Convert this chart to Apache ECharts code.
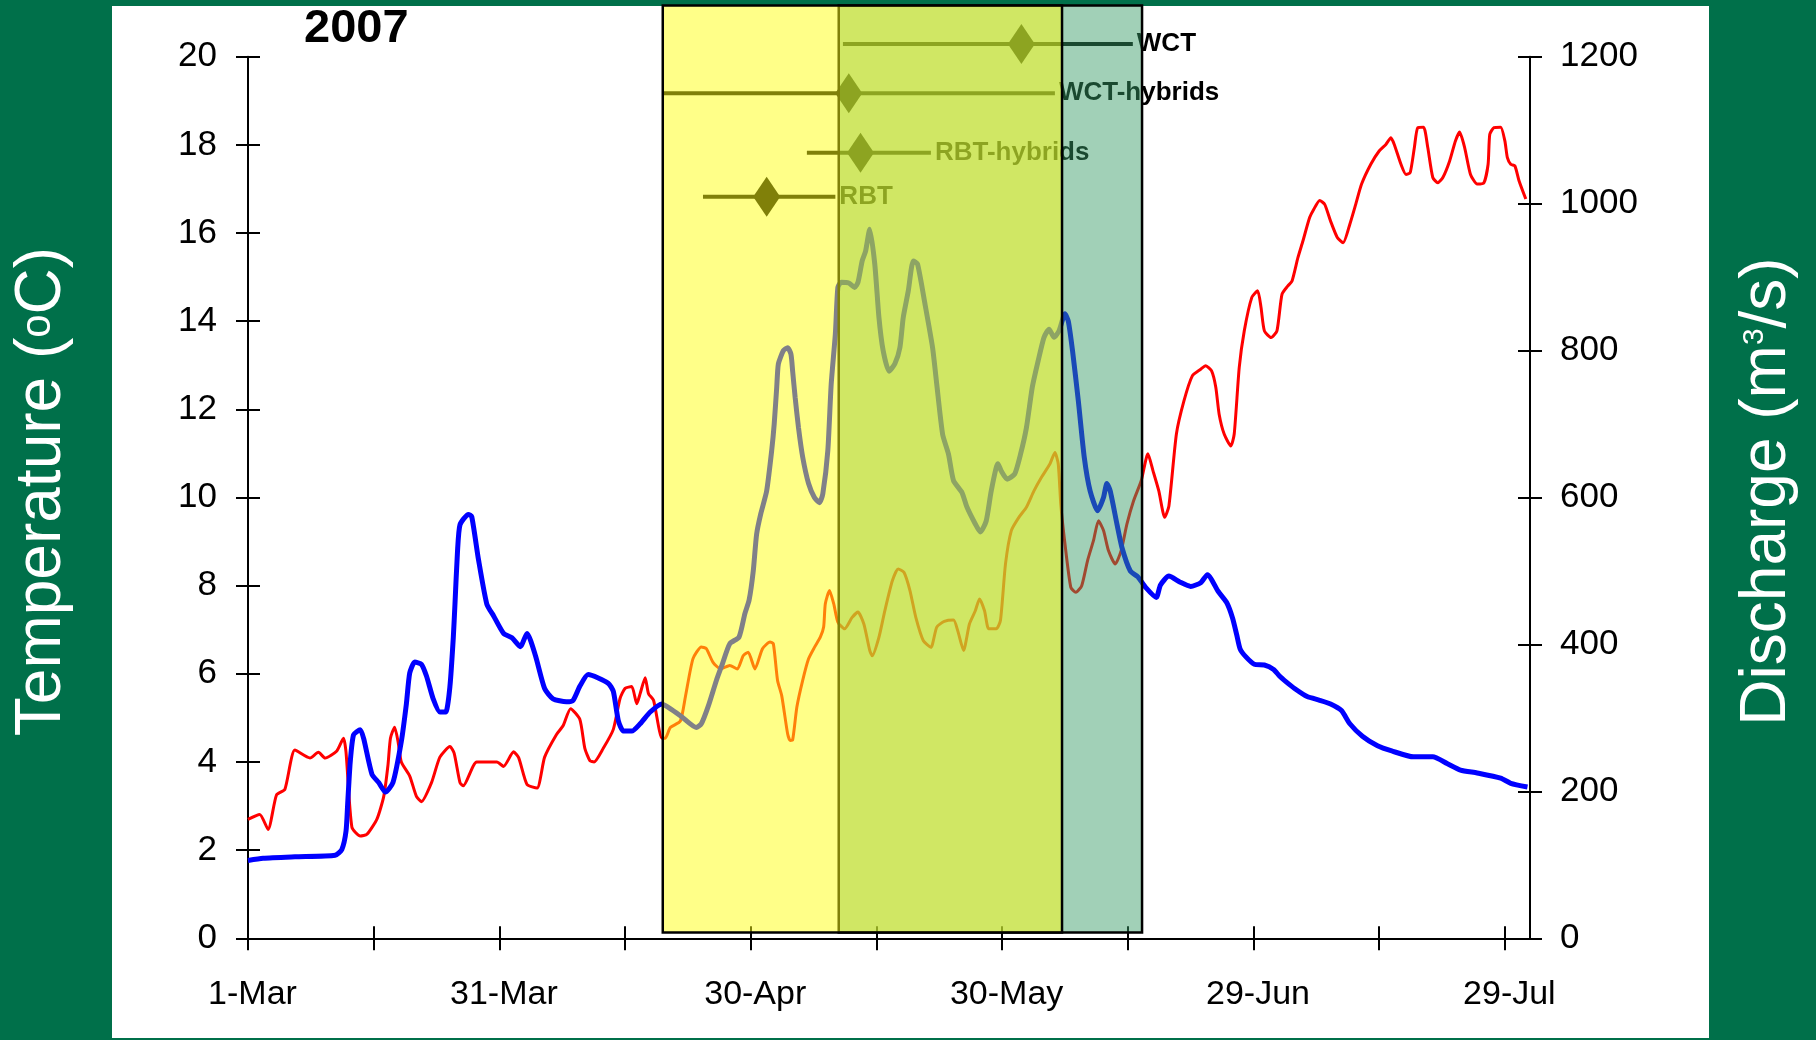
<!DOCTYPE html>
<html>
<head>
<meta charset="utf-8">
<script src="https://cdn.jsdelivr.net/npm/echarts@6/dist/echarts.min.js"></script>
<style>
  html, body { margin: 0; padding: 0; background: #00704a; }
  #panel { position: absolute; left: 112px; top: 6px; width: 1597px; height: 1032px; background: #fff; }
  #chart { position: absolute; left: 0; top: 0; width: 1816px; height: 1040px; }
</style>
</head>
<body>
<div id="panel"></div>
<div id="chart"></div>
<script>
const FONT = '"Liberation Sans", Arial, sans-serif';

// x axis is days since 1 March 2007
const xTickDays = [0, 15, 30, 45, 60, 75, 90, 105, 120, 135, 150];
const xLabelDays = [0, 30, 60, 90, 120, 150];
const xLabels = ["1-Mar", "31-Mar", "30-Apr", "30-May", "29-Jun", "29-Jul"];

// water temperature, [day, degC]
const temperature = [
  [0, 2.7], [1.4, 2.81], [2.4, 2.47], [3.4, 3.25], [4.4, 3.38], [5.6, 4.27], [7.4, 4.09], [8.4, 4.22],
  [9.2, 4.09], [10.6, 4.25], [11.4, 4.54], [11.7, 4.22], [12.4, 2.52], [13.4, 2.32], [14.2, 2.36],
  [15.4, 2.71], [16.2, 3.22], [16.7, 3.92], [17.0, 4.54], [17.5, 4.79], [17.9, 4.47], [18.3, 4.0],
  [19.3, 3.68], [20.1, 3.22], [20.7, 3.1], [21.9, 3.53], [22.9, 4.11], [24.1, 4.35], [24.6, 4.2],
  [25.3, 3.53], [25.7, 3.46], [27.3, 4.0], [29.7, 4.0], [30.5, 3.9], [31.7, 4.23], [32.3, 4.1],
  [33.3, 3.49], [34.5, 3.41], [35.4, 4.11], [36.8, 4.62], [37.6, 4.82], [38.5, 5.21], [39.6, 4.97],
  [40.2, 4.31], [40.8, 4.03], [41.3, 4.0], [42.4, 4.31], [43.6, 4.74], [44.4, 5.44], [45.0, 5.67],
  [45.8, 5.71], [46.4, 5.32], [46.8, 5.55], [47.4, 5.91], [47.8, 5.55], [48.4, 5.4], [49.4, 4.54],
  [49.8, 4.54], [50.4, 4.78], [51.6, 4.93], [52.2, 5.48], [53.1, 6.34], [54.1, 6.61], [54.7, 6.57],
  [55.5, 6.26], [56.4, 6.11], [57.5, 6.19], [58.4, 6.11], [59.1, 6.41], [59.7, 6.49], [60.5, 6.11],
  [61.4, 6.57], [62.3, 6.72], [62.7, 6.68], [63.2, 5.85], [63.7, 5.5], [64.4, 4.64], [64.7, 4.49],
  [65.0, 4.5], [65.5, 5.24], [66.2, 5.85], [66.9, 6.34], [67.6, 6.6], [68.3, 6.83], [68.7, 7.06],
  [68.9, 7.59], [69.4, 7.89], [69.9, 7.59], [70.4, 7.17], [71.2, 7.02], [72.1, 7.28], [72.8, 7.4],
  [73.5, 7.13], [74.2, 6.53], [74.5, 6.41], [75.3, 6.83], [76.0, 7.43], [76.9, 8.11], [77.6, 8.38],
  [78.3, 8.3], [79.0, 7.89], [79.7, 7.28], [80.6, 6.75], [81.5, 6.6], [82.2, 7.06], [83.1, 7.19],
  [84.2, 7.22], [84.7, 6.98], [85.4, 6.53], [86.1, 7.13], [86.8, 7.43], [87.3, 7.7], [87.9, 7.43],
  [88.4, 7.02], [89.3, 7.02], [89.8, 7.21], [90.4, 8.49], [91.1, 9.25], [92.0, 9.55], [92.9, 9.78],
  [93.8, 10.15], [94.7, 10.46], [95.7, 10.76], [96.3, 11.02], [96.7, 10.76], [97.0, 9.85], [97.5, 8.95],
  [98.2, 7.96], [98.8, 7.85], [99.5, 8.0], [100.2, 8.57], [100.9, 9.02], [101.5, 9.47], [102.1, 9.25],
  [102.7, 8.79], [103.5, 8.49], [104.2, 8.79], [104.9, 9.4], [105.7, 9.93], [106.6, 10.38], [107.4, 10.99],
  [108.0, 10.61], [108.7, 10.15], [109.4, 9.55], [109.9, 9.8], [110.8, 11.44], [111.7, 12.19],
  [112.7, 12.76], [113.7, 12.91], [114.3, 12.99], [115.0, 12.87], [115.5, 12.5], [115.9, 11.89],
  [116.5, 11.44], [117.3, 11.17], [117.7, 11.44], [118.3, 12.95], [118.9, 13.78], [119.8, 14.54],
  [120.5, 14.69], [120.9, 14.31], [121.3, 13.78], [122.1, 13.63], [122.8, 13.78], [123.4, 14.61],
  [124.1, 14.8], [124.6, 14.91], [125.3, 15.44], [125.9, 15.82], [126.7, 16.35], [127.2, 16.54],
  [127.9, 16.74], [128.5, 16.65], [129.2, 16.27], [130.0, 15.9], [130.7, 15.78], [131.5, 16.2],
  [132.2, 16.65], [132.9, 17.11], [134.0, 17.56], [135.0, 17.86], [135.8, 18.01], [136.4, 18.16],
  [136.8, 18.01], [137.6, 17.56], [138.2, 17.33], [138.7, 17.37], [139.2, 17.94], [139.6, 18.39],
  [140.3, 18.4], [140.8, 17.94], [141.4, 17.26], [142.0, 17.14], [142.6, 17.26], [143.4, 17.63],
  [144.1, 18.09], [144.6, 18.29], [145.2, 17.94], [145.9, 17.33], [146.7, 17.11], [147.5, 17.14],
  [148.0, 17.56], [148.2, 18.24], [148.7, 18.39], [149.5, 18.4], [150.0, 18.09], [150.3, 17.71],
  [150.7, 17.56], [151.2, 17.52], [151.7, 17.18], [152.5, 16.77]
];

// river discharge, [day, m3/s]
const discharge = [
  [0, 106], [1.8, 109], [5.6, 111], [10.4, 113], [11.2, 121], [11.7, 146], [11.9, 184], [12.2, 240],
  [12.6, 277], [13.4, 284], [13.8, 272], [14.8, 223], [15.6, 212], [16.4, 199], [17.3, 212], [18.3, 268],
  [18.9, 319], [19.3, 361], [19.9, 376], [20.7, 373], [21.3, 357], [22.1, 326], [22.9, 308], [23.6, 308],
  [24.1, 343], [24.5, 409], [24.7, 455], [25.0, 526], [25.3, 563], [26.3, 577], [26.7, 574], [27.5, 516],
  [28.5, 455], [29.3, 439], [30.5, 415], [31.5, 409], [32.5, 397], [33.3, 415], [34.3, 385], [35.4, 340],
  [36.4, 326], [38.0, 322], [38.8, 324], [39.6, 343], [40.6, 359], [43.0, 347], [43.6, 336], [44.2, 296],
  [44.8, 282], [45.8, 282], [46.8, 292], [48.0, 308], [49.4, 319], [50.2, 314], [51.6, 303], [53.5, 287],
  [54.1, 292], [54.9, 315], [55.9, 351], [56.6, 373], [57.5, 401], [58.6, 410], [59.3, 442], [59.8, 460],
  [60.3, 500], [60.7, 550], [61.2, 578], [61.9, 609], [62.5, 664], [62.8, 700], [63.1, 750], [63.3, 782],
  [63.9, 800], [64.4, 804], [64.8, 795], [65.0, 772], [65.3, 736], [65.7, 695], [66.2, 655], [66.9, 619],
  [67.6, 600], [68.2, 593], [68.6, 605], [69.2, 664], [69.6, 754], [70.1, 823], [70.4, 886], [70.8, 893],
  [71.7, 892], [72.4, 886], [72.8, 893], [73.3, 922], [73.7, 935], [74.2, 965], [74.8, 918], [75.3, 845],
  [75.8, 800], [76.5, 772], [77.2, 782], [77.8, 804], [78.2, 845], [78.8, 881], [79.4, 922], [79.9, 918],
  [80.8, 863], [81.7, 804], [82.2, 754], [82.9, 686], [83.6, 659], [84.2, 623], [85.2, 607], [85.8, 587],
  [86.8, 564], [87.4, 553], [88.1, 568], [88.7, 609], [89.5, 646], [89.9, 636], [90.6, 625], [91.5, 632],
  [92.2, 659], [92.9, 695], [93.6, 750], [94.3, 786], [95.0, 818], [95.6, 829], [96.2, 818], [96.8, 827],
  [97.5, 850], [97.9, 840], [98.4, 800], [99.1, 731], [99.8, 655], [100.5, 609], [101.4, 582], [102.1, 600],
  [102.5, 619], [102.9, 609], [103.7, 564], [104.3, 532], [105.3, 500], [106.2, 492], [107.1, 478],
  [108.4, 464], [108.9, 481], [109.9, 493], [111.2, 485], [112.5, 479], [113.7, 484], [114.5, 495],
  [115.8, 472], [116.8, 457], [117.5, 436], [118.0, 413], [118.4, 394], [119.1, 383], [120.1, 373],
  [121.3, 372], [122.4, 366], [123.1, 357], [123.9, 349], [124.9, 340], [126.4, 329], [127.9, 324],
  [129.2, 319], [130.5, 310], [131.5, 292], [133.0, 275], [134.8, 262], [136.5, 255], [139.1, 247],
  [141.4, 247], [143.1, 238], [144.7, 229], [146.7, 225], [149.5, 218], [150.7, 211], [152.7, 206]
];

// migration timing bars: first, median and last day for each group
const fishNames = ["WCT", "WCT-hybrids", "RBT-hybrids", "RBT"];
const fishFirst = [71.0, 49.5, 66.7, 54.3];
const fishMedian = [92.3, 71.7, 73.1, 61.9];
const fishLast = [105.6, 96.3, 81.5, 70.1];
const fishRow = [20.29, 19.17, 17.82, 16.82];

// shaded periods (teal drawn first, yellow over it)
const shadeStart = [70.5, 49.5];
const shadeEnd = [106.7, 97.15];
const shadeFill = ["rgba(55,155,102,0.47)", "rgba(255,255,17,0.5)"];

const SHADE_TOP = 21.16;
const SHADE_BOTTOM = 0.13;

const chart = echarts.init(document.getElementById("chart"));

const axisLineStyle = { color: "#000", width: 2 };

function fishItem(params, api) {
  const y = api.value(3);
  const p0 = api.coord([api.value(0), y]);
  const pm = api.coord([api.value(1), y]);
  const p1 = api.coord([api.value(2), y]);
  return {
    type: "group",
    children: [
      { type: "line", shape: { x1: p0[0], y1: p0[1], x2: p1[0], y2: p1[1] }, style: { stroke: "#000", lineWidth: 4 } },
      {
        type: "polygon",
        shape: { points: [[pm[0], pm[1] - 20], [pm[0] + 13.5, pm[1]], [pm[0], pm[1] + 20], [pm[0] - 13.5, pm[1]]] },
        style: { fill: "#000" },
      },
      {
        type: "text",
        x: p1[0] + 4,
        y: p1[1],
        style: { text: fishNames[params.dataIndex], fill: "#000", font: `bold 26px ${FONT}`, align: "left", verticalAlign: "middle" },
      },
    ],
  };
}

function shadeItem(params, api) {
  const a = api.coord([api.value(0), SHADE_TOP]);
  const b = api.coord([api.value(1), SHADE_BOTTOM]);
  return {
    type: "rect",
    shape: { x: a[0], y: a[1], width: b[0] - a[0], height: b[1] - a[1] },
    style: { fill: shadeFill[params.dataIndex], stroke: "#000", lineWidth: 2.5 },
  };
}

function plainAxis(extra) {
  return Object.assign(
    {
      type: "value",
      axisLine: { show: true, onZero: false, lineStyle: axisLineStyle },
      axisTick: { show: true, length: 12, lineStyle: axisLineStyle },
      splitLine: { show: false },
    },
    extra
  );
}

// second copy of an axis with inward ticks so the ticks cross the line
function innerTicks(extra) {
  return Object.assign(
    {
      type: "value",
      axisLine: { show: false, onZero: false },
      axisTick: { show: true, inside: true, length: 12, lineStyle: axisLineStyle },
      axisLabel: { show: false },
      splitLine: { show: false },
    },
    extra
  );
}

chart.setOption({
  animation: false,
  title: {
    text: "2007",
    left: 304,
    top: 6,
    padding: 0,
    textStyle: { fontSize: 47, fontWeight: "bold", color: "#000", fontFamily: FONT },
  },
  grid: { left: 248, right: 286, top: 56.7, bottom: 101.7, containLabel: false, outerBoundsMode: "none" },
  xAxis: [
    plainAxis({
      min: 0,
      max: 153,
      position: "bottom",
      axisTick: { show: true, length: 12, lineStyle: axisLineStyle, customValues: xTickDays },
      axisLabel: {
        customValues: xLabelDays,
        formatter: (v) => xLabels[xLabelDays.indexOf(Math.round(v))] || "",
        margin: 39,
        fontSize: 34,
        color: "#000",
        fontFamily: FONT,
        padding: [0, 0, 0, 9],
      },
    }),
    innerTicks({
      min: 0,
      max: 153,
      position: "bottom",
      axisTick: { show: true, inside: true, length: 12, lineStyle: axisLineStyle, customValues: xTickDays },
    }),
  ],
  yAxis: [
    plainAxis({
      min: 0,
      max: 20,
      interval: 2,
      position: "left",
      name: "Temperature ({sup|o}C)",
      nameLocation: "middle",
      nameRotate: 90,
      nameGap: 174,
      nameTextStyle: {
        color: "#fff",
        fontSize: 64,
        fontFamily: FONT,
        padding: [0, 0, 0, 12],
        rich: { sup: { color: "#fff", fontSize: 42, fontFamily: FONT, verticalAlign: "middle", padding: [0, 0, 8, 0] } },
      },
      axisLabel: { margin: 31, fontSize: 35, color: "#000", fontFamily: FONT },
    }),
    plainAxis({
      min: 0,
      max: 1200,
      interval: 200,
      position: "right",
      name: "Discharge (m{sup|3}/s)",
      nameLocation: "middle",
      nameRotate: 90,
      nameGap: 205,
      nameTextStyle: {
        color: "#fff",
        fontSize: 64,
        fontFamily: FONT,
        padding: [0, 0, 0, 12],
        rich: { sup: { color: "#fff", fontSize: 30, fontFamily: FONT, verticalAlign: "top", padding: [5, 0, 0, 0] } },
      },
      axisLabel: { margin: 30, fontSize: 35, color: "#000", fontFamily: FONT, formatter: (v) => String(v) },
    }),
    innerTicks({ min: 0, max: 20, interval: 2, position: "left" }),
    innerTicks({ min: 0, max: 1200, interval: 200, position: "right" }),
  ],
  series: [
    {
      name: "Temperature",
      type: "line",
      xAxisIndex: 0,
      yAxisIndex: 0,
      data: temperature,
      showSymbol: false,
      smooth: 0.2,
      lineStyle: { color: "#ff0000", width: 3 },
      z: 2,
    },
    {
      name: "Discharge",
      type: "line",
      xAxisIndex: 0,
      yAxisIndex: 1,
      data: discharge,
      showSymbol: false,
      smooth: 0.2,
      lineStyle: { color: "#0000ff", width: 5 },
      z: 2,
    },
    {
      name: "Migration",
      type: "custom",
      xAxisIndex: 0,
      yAxisIndex: 0,
      renderItem: fishItem,
      encode: { x: [0, 1, 2], y: 3 },
      data: fishNames.map((n, i) => [fishFirst[i], fishMedian[i], fishLast[i], fishRow[i]]),
      clip: false,
      z: 2,
    },
    {
      name: "Periods",
      type: "custom",
      xAxisIndex: 0,
      yAxisIndex: 0,
      renderItem: shadeItem,
      encode: { x: [0, 1] },
      data: shadeStart.map((s, i) => [s, shadeEnd[i]]),
      clip: false,
      silent: true,
      z: 3,
    },
  ],
});
</script>
</body>
</html>
